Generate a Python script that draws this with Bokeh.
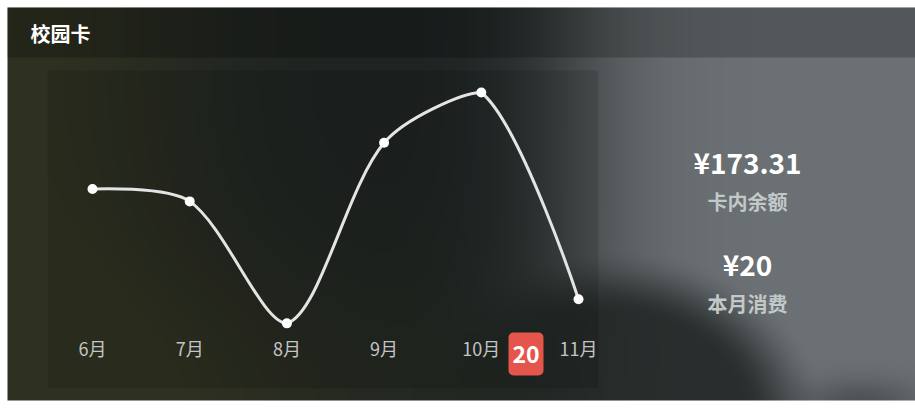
import numpy as np
from bokeh.plotting import figure
from bokeh.models import Range1d, ColumnDataSource, BoxAnnotation
from bokeh.core.properties import value
from bokeh.embed import file_html
from bokeh.resources import INLINE

# ---------------- data ----------------
months = ["6月", "7月", "8月", "9月", "10月", "11月"]
amounts = [52, 48.4, 13, 65.4, 80, 20]
card_title = "校园卡"
balance = 173.31
balance_label = "卡内余额"
month_spend = 20
spend_label = "本月消费"

W, H = 915, 409
FONT = value("Noto Sans CJK SC")

p = figure(width=W, height=H, x_range=Range1d(0, W), y_range=Range1d(0, H),
           x_axis_type=None, y_axis_type=None, output_backend="svg",
           toolbar_location=None, min_border=0, outline_line_color=None,
           background_fill_color="white", border_fill_color="white")
p.grid.visible = False

# chart coordinate system (month index / amount)
p.extra_x_ranges = {"m": Range1d(-0.9465, 8.467)}
p.extra_y_ranges = {"v": Range1d(-12.0, 106.7)}

# ---------------- blurred background ----------------
cx0, cy0, cw, ch = 7, 7, 908, 393
X, Y = np.meshgrid(np.arange(cw) + cx0 + 0.5, np.arange(ch) + cy0 + 0.5)

def smoothstep(e0, e1, v):
    t = np.clip((v - e0) / (e1 - e0), 0, 1)
    return t * t * (3 - 2 * t)

dark = np.array([29, 35, 34], float)
olive = np.array([47, 49, 32], float)
gray = np.array([107, 113, 116], float)

wo = np.exp(-((X - 7) / 200) ** 2) + 0.55 * np.exp(-((Y - 400) / 150) ** 2) * np.exp(-((X - 200) / 300) ** 2)
wo = np.clip(wo, 0, 1)
g = 1 / (1 + np.exp(-(X - 575) / 40))
r = np.sqrt(((X - 610) / 190) ** 2 + ((Y - 420) / 150) ** 2)
d = smoothstep(1.15, 0.7, r)
g = g * (1 - 0.85 * d)
g = g * (1 - 0.4 * np.exp(-(((X - 860) / 60) ** 2 + ((Y - 405) / 25) ** 2)))
base = dark * (1 - wo)[..., None] + olive * wo[..., None]
col = base * (1 - g)[..., None] + gray * g[..., None]
rgb = np.clip(col, 0, 255).astype(np.uint8)
img = np.zeros((ch, cw), dtype=np.uint32)
view = img.view(dtype=np.uint8).reshape((ch, cw, 4))
view[..., :3] = rgb
view[..., 3] = 255
img = np.ascontiguousarray(img[::-1])
p.image_rgba(image=[img], x=cx0, y=H - (cy0 + ch), dw=cw, dh=ch, level="image")

# header band and chart panel overlays
p.add_layout(BoxAnnotation(left=7, right=915, top=H - 7, bottom=H - 57, level="underlay",
                           fill_color="black", fill_alpha=0.22, line_color=None))
p.add_layout(BoxAnnotation(left=47, right=598, top=H - 70, bottom=H - 388, level="underlay",
                           fill_color="black", fill_alpha=0.12, line_color=None))

# ---------------- smooth line (bezier through the data points) ----------------
xr, yr = p.extra_x_ranges["m"], p.extra_y_ranges["v"]
sx = W / (xr.end - xr.start)
sy = H / (yr.end - yr.start)
xs = np.arange(len(months), dtype=float)
ys = np.array(amounts, dtype=float)
P = np.column_stack([xs * sx, ys * sy])
n = len(P)
smooth = 0.3
lo, hi = P.min(axis=0), P.max(axis=0)
segs = []
cp0 = P[0].copy()
for i in range(1, n):
    cur, prev = P[i], P[i - 1]
    if i == n - 1:
        cp1 = cur.copy()
        v = np.zeros(2)
        ratio = 0.5
    else:
        nxt = P[i + 1]
        v = nxt - prev
        lp = np.linalg.norm(cur - prev)
        ln = np.linalg.norm(nxt - cur)
        ratio = ln / (ln + lp)
        cp1 = cur - v * smooth * (1 - ratio)
    segs.append((prev, np.clip(cp0, lo, hi), np.clip(cp1, lo, hi), cur))
    cp0 = cur + v * smooth * ratio

bz = ColumnDataSource(dict(
    x0=[s[0][0] / sx for s in segs], y0=[s[0][1] / sy for s in segs],
    cx0=[s[1][0] / sx for s in segs], cy0=[s[1][1] / sy for s in segs],
    cx1=[s[2][0] / sx for s in segs], cy1=[s[2][1] / sy for s in segs],
    x1=[s[3][0] / sx for s in segs], y1=[s[3][1] / sy for s in segs],
))
p.bezier(x0="x0", y0="y0", x1="x1", y1="y1", cx0="cx0", cy0="cy0", cx1="cx1", cy1="cy1",
         source=bz, line_color="#e4e4e4", line_width=3,
         x_range_name="m", y_range_name="v")

pts = ColumnDataSource(dict(x=xs, y=ys, label=months))
p.scatter("x", "y", source=pts, size=10, fill_color="white", line_color=None,
          x_range_name="m", y_range_name="v")

# month labels
p.text(x="x", y=H - 347, text="label", source=pts, x_range_name="m",
       text_font=FONT, text_font_size="18px", text_color="#c4c4c4",
       text_align="center", text_baseline="middle")

# badge
p.add_layout(BoxAnnotation(left=508, right=543, top=H - 332, bottom=H - 375, level="underlay",
                           fill_color="#e4554b", fill_alpha=1.0, line_color=None,
                           border_radius=5))
p.text(x=[525.5], y=[H - 353.5], text=[str(month_spend)], text_font=FONT,
       text_font_size="23px", text_font_style="bold", text_color="white",
       text_align="center", text_baseline="middle")

# title
p.text(x=[30], y=[H - 33], text=[card_title], text_font=FONT, text_font_size="20px",
       text_font_style="bold", text_color="white", text_align="left",
       text_baseline="middle")

# right side figures
p.text(x=[747, 747], y=[H - 161, H - 263], text=[f"¥{balance:.2f}", f"¥{month_spend}"],
       text_font=FONT, text_font_size="28px", text_font_style="bold",
       text_color="white", text_align="center", text_baseline="middle")
p.text(x=[747, 747], y=[H - 201, H - 303], text=[balance_label, spend_label],
       text_font=FONT, text_font_size="20px", text_font_style="bold",
       text_color="#c3c8c8", text_align="center", text_baseline="middle")

open("out.html", "w").write(file_html(p, INLINE))
